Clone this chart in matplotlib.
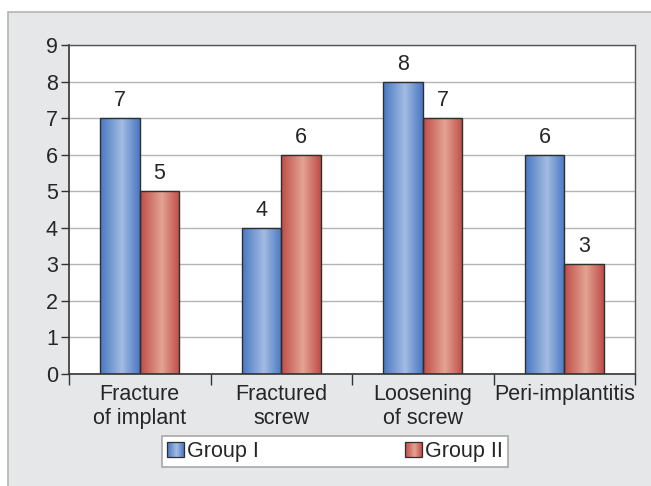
import numpy as np
import matplotlib
matplotlib.use("Agg")
import matplotlib.pyplot as plt
from matplotlib.patches import Rectangle
from matplotlib.colors import LinearSegmentedColormap
from matplotlib.legend_handler import HandlerBase

plt.rcParams['font.family'] = ['Liberation Sans', 'DejaVu Sans']

categories = ["Fracture\nof implant", "Fractured\nscrew", "Loosening\nof screw", "Peri-implantitis"]
group1 = [7, 4, 8, 6]
group2 = [5, 6, 7, 3]
series_names = ["Group I", "Group II"]
y_ticks = list(range(0, 10))

FS = 15.5
TXT = "#262626"

blue_cmap = LinearSegmentedColormap.from_list(
    "blue_cyl", [(0, "#4877c2"), (0.55, "#a3bce2"), (1, "#4877c2")])
red_cmap = LinearSegmentedColormap.from_list(
    "red_cyl", [(0, "#bf4c47"), (0.55, "#e3a393"), (1, "#bf4c47")])

fig = plt.figure(figsize=(6.51, 4.86), dpi=100)
fig.patch.set_facecolor("white")
# grey panel behind the chart
panel = Rectangle((8 / 651, -0.01), 1.0, 1 - 12 / 486 + 0.01,
                  transform=fig.transFigure, facecolor="#e6e7e9",
                  edgecolor="#b4b4b4", linewidth=1.2, zorder=-5)
fig.add_artist(panel)

ax = fig.add_axes([69 / 651, 1 - 374 / 486, (635 - 69) / 651, (374 - 45) / 486])
ax.set_zorder(1)
ax.set_facecolor("white")

x = np.arange(len(categories))
w = 0.28
grad = np.linspace(0, 1, 256).reshape(1, -1)


def gradient_bars(xpos, vals, cmap):
    bars = ax.bar(xpos, vals, width=w, facecolor="none", edgecolor="#2f2f2f",
                  linewidth=1.0, zorder=3)
    for b in bars:
        x0, y0 = b.get_x(), b.get_y()
        im = ax.imshow(grad, cmap=cmap, aspect="auto",
                       extent=(x0, x0 + b.get_width(), y0, y0 + b.get_height()),
                       zorder=2, interpolation="bilinear")
        im.set_clip_path(b)
    return bars


b1 = gradient_bars(x - w / 2, group1, blue_cmap)
b2 = gradient_bars(x + w / 2, group2, red_cmap)

for bars, vals in ((b1, group1), (b2, group2)):
    for b, v in zip(bars, vals):
        ax.annotate(str(v), (b.get_x() + b.get_width() / 2, v),
                    xytext=(0, 5), textcoords="offset points",
                    ha="center", va="bottom", fontsize=FS, color=TXT)

ax.set_xlim(-0.5, len(categories) - 0.5)
ax.set_ylim(0, 9)
ax.set_yticks(y_ticks)
ax.set_yticklabels([str(t) for t in y_ticks], fontsize=FS, color=TXT)
ax.yaxis.grid(True, color="#b4b4b4", linewidth=1.0, zorder=0)
ax.set_axisbelow(True)

# category boundaries as tick marks, labels centred between them
ax.set_xticks(np.arange(len(categories) + 1) - 0.5)
ax.set_xticklabels([])
ax.set_xticks(x, minor=True)
ax.set_xticklabels(categories, minor=True, fontsize=FS, color=TXT,
                   linespacing=1.2)
ax.tick_params(axis="x", which="minor", length=0, pad=7)
ax.tick_params(axis="x", which="major", length=8, width=1.0, color="#333333")
ax.tick_params(axis="y", length=6, width=1.0, color="#333333", pad=2)

for s in ("left", "bottom"):
    ax.spines[s].set_color("#333333")
    ax.spines[s].set_linewidth(1.2)
for s in ("top", "right"):
    ax.spines[s].set_color("#555555")
    ax.spines[s].set_linewidth(1.0)


class GradientHandler(HandlerBase):
    def __init__(self, cmap):
        super().__init__()
        self.cmap = cmap

    def create_artists(self, legend, orig_handle, xdescent, ydescent,
                       width, height, fontsize, trans):
        arts = []
        n = 24
        bw = width
        bh = width * 0.85
        y0 = -ydescent + (height - bh) / 2
        for i in range(n):
            r = Rectangle((-xdescent + bw * i / n, y0), bw / n + 0.2, bh,
                          facecolor=self.cmap((i + 0.5) / n), edgecolor="none",
                          transform=trans)
            arts.append(r)
        arts.append(Rectangle((-xdescent, y0), bw, bh, facecolor="none",
                              edgecolor="#2f2f2f", linewidth=0.9, transform=trans))
        return arts


h1 = Rectangle((0, 0), 1, 1)
h2 = Rectangle((0, 0), 1, 1)
leg = fig.legend([h1, h2], series_names, ncol=2, mode="expand",
                 bbox_to_anchor=(162 / 651, 1 - 466 / 486, (508 - 162) / 651, 29 / 486),
                 loc="center", fontsize=FS, frameon=True, fancybox=False,
                 edgecolor="#a8a8a8", framealpha=1, handlelength=0.78,
                 handletextpad=0.12, borderpad=0.25, borderaxespad=0,
                 handler_map={h1: GradientHandler(blue_cmap),
                              h2: GradientHandler(red_cmap)})
leg.get_frame().set_linewidth(1.2)
for t in leg.get_texts():
    t.set_color(TXT)

fig.savefig("out.png", dpi=100)
